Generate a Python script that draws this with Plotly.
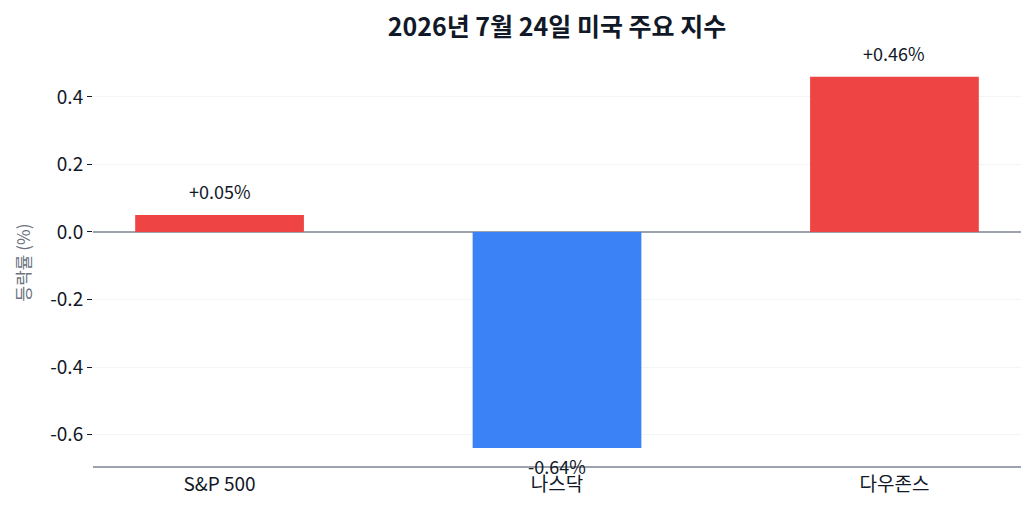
import plotly.graph_objects as go

# 지수별 등락률
indices = ["S&P 500", "나스닥", "다우존스"]
changes = [0.05, -0.64, 0.46]
labels = ["+0.05%", "-0.64%", "+0.46%"]

# y축 눈금 (하이픈 마이너스 사용)
y_ticks = [-0.6, -0.4, -0.2, 0.0, 0.2, 0.4]
y_tick_text = ["-0.6", "-0.4", "-0.2", "0.0", "0.2", "0.4"]

colors = ["#ef4444" if v >= 0 else "#3b82f6" for v in changes]

fig = go.Figure(go.Bar(
    x=indices,
    y=changes,
    marker=dict(color=colors, line=dict(width=0)),
    width=0.5,
))

# 막대 위/아래 값 표시
for name, v, lab in zip(indices, changes, labels):
    fig.add_annotation(
        x=name, y=v, text=lab, showarrow=False,
        yanchor="bottom" if v >= 0 else "top",
        yshift=9 if v >= 0 else -3,
        font=dict(size=18, color="#111827"),
    )

# y축 제목 (눈금 라벨에서 더 떨어뜨려 배치)
fig.add_annotation(
    text="등락률 (%)", xref="paper", yref="paper", x=0, y=0.5,
    xshift=-71, yshift=-3, textangle=-90, showarrow=False,
    xanchor="center", yanchor="middle",
    font=dict(size=17, color="#6b7280"),
)

fig.update_layout(
    title=dict(text="<b>2026년 7월 24일 미국 주요 지수</b>",
               xref="paper", x=0.5, xanchor="center",
               y=0.962, yanchor="middle",
               font=dict(size=25, color="#111827")),
    font=dict(family="Noto Sans CJK KR", size=18, color="#111827"),
    plot_bgcolor="white",
    paper_bgcolor="white",
    width=1028, height=501,
    margin=dict(l=85, r=15, t=45, b=43),
    showlegend=False,
    xaxis=dict(
        range=[-0.375, 2.375],
        showgrid=False,
        showline=True, linecolor="#9ca3af", linewidth=1.5,
        ticks="",
        tickfont=dict(size=19),
    ),
    yaxis=dict(
        range=[-0.693, 0.53],
        tickmode="array", tickvals=y_ticks, ticktext=y_tick_text,
        showgrid=True, gridcolor="#f3f4f6", gridwidth=1,
        zeroline=True, zerolinecolor="#9ca3af", zerolinewidth=1.5,
        ticks="outside", ticklen=5, tickcolor="#111827",
        tickfont=dict(size=19),
    ),
)

fig.write_html("out.html")
